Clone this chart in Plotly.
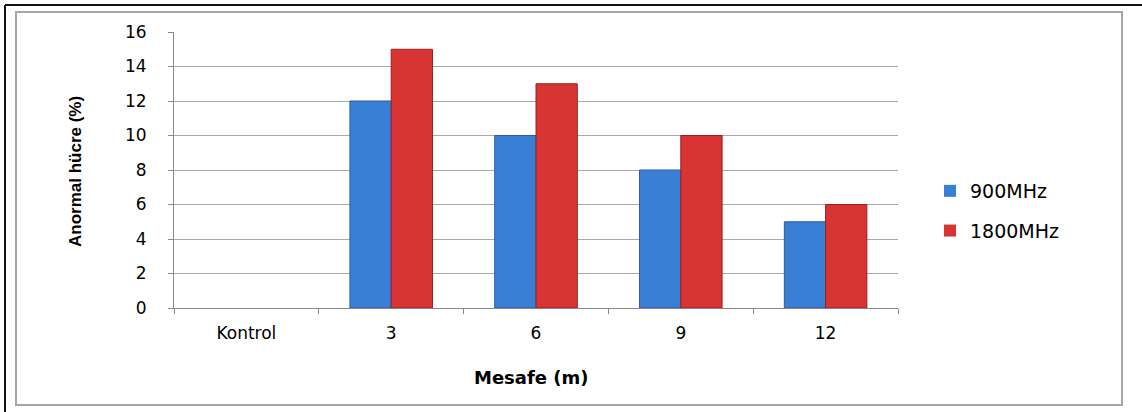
import plotly.graph_objects as go

categories = ["Kontrol", "3", "6", "9", "12"]
mhz900 = [0, 12, 10, 8, 5]
mhz1800 = [0, 15, 13, 10, 6]
series_names = ["900MHz", "1800MHz"]
y_ticks = [0, 2, 4, 6, 8, 10, 12, 14, 16]

W, H = 1142, 412
L, R, T, B = 174, 898, 32, 308
pw, ph = R - L, B - T


def px(x):
    return (x - L) / pw


def py(y):
    return (B - y) / ph


def edge_widths(vals):
    return [1 if v > 0 else 0 for v in vals]


fig = go.Figure()
fig.add_trace(go.Bar(
    x=categories, y=mhz900, name=series_names[0], legendgroup="a",
    marker=dict(color="#3a7fd6", line=dict(color="#2a5ca6", width=edge_widths(mhz900))),
))
fig.add_trace(go.Bar(
    x=categories, y=mhz1800, name=series_names[1], legendgroup="b",
    marker=dict(color="#d83434", line=dict(color="#962020", width=edge_widths(mhz1800))),
))

shapes = [
    dict(type="rect", xref="paper", yref="paper",
         x0=px(16), x1=px(1122), y0=py(405), y1=py(12),
         line=dict(color="#a6a6a6", width=2), layer="below"),
    dict(type="line", xref="paper", yref="paper",
         x0=px(5), x1=px(1142), y0=py(5), y1=py(5),
         line=dict(color="#111111", width=2)),
    dict(type="line", xref="paper", yref="paper",
         x0=px(5), x1=px(5), y0=py(5), y1=py(412),
         line=dict(color="#111111", width=2)),
]

annotations = [
    dict(text="<b>Anormal hücre (%)</b>", xref="paper", yref="paper",
         x=px(75), y=py(171), textangle=-90, showarrow=False,
         font=dict(family="Liberation Sans Narrow, Liberation Sans, Arial, sans-serif", size=17, color="#000000"),
         xanchor="center", yanchor="middle"),
    dict(text="<b>Mesafe (m)</b>", xref="paper", yref="paper",
         x=px(531), y=py(377), showarrow=False,
         font=dict(family="DejaVu Sans, Verdana, sans-serif", size=18, color="#000000"),
         xanchor="center", yanchor="middle"),
]

fig.update_layout(
    width=W, height=H,
    margin=dict(l=L, r=W - R, t=T, b=H - B, pad=0),
    paper_bgcolor="white", plot_bgcolor="white",
    barmode="group", bargap=0.43, bargroupgap=0,
    font=dict(family="DejaVu Sans, Verdana, sans-serif", size=17, color="#000000"),
    showlegend=True,
    legend=dict(x=px(930), y=py(172), xanchor="left", yanchor="top",
                xref="paper", yref="paper",
                font=dict(size=19, family="DejaVu Sans, Verdana, sans-serif"),
                traceorder="grouped", tracegroupgap=12,
                itemwidth=30, bgcolor="rgba(0,0,0,0)"),
    shapes=shapes,
    annotations=annotations,
)
fig.update_xaxes(
    type="category", tickson="boundaries", ticks="outside", ticklen=5,
    tickcolor="#888888", showline=True, linecolor="#888888", linewidth=1,
    showgrid=False, ticklabelstandoff=10,
    tickfont=dict(size=17),
)
fig.update_yaxes(
    range=[0, 16], tickvals=y_ticks, ticks="outside", ticklen=5,
    tickcolor="#888888", showline=True, linecolor="#888888", linewidth=1,
    showgrid=True, gridcolor="#a8a8a8", gridwidth=1, zeroline=False,
    ticklabelstandoff=18, tickfont=dict(size=17),
)

fig.write_html("out.html", post_script="document.body.style.margin='0';",
               config={"displayModeBar": False})
